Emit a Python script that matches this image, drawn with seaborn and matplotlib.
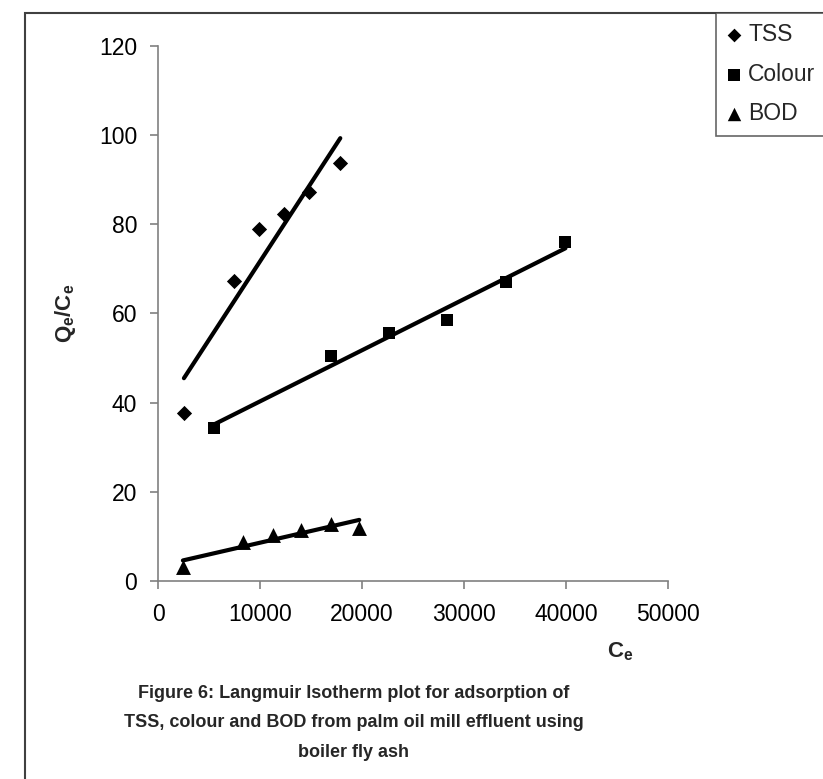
import matplotlib
matplotlib.use('Agg')
import matplotlib.pyplot as plt
import seaborn as sns
from matplotlib.patches import Rectangle

# values
tss_ce = [2540, 7420, 9860, 12400, 14840, 17870]
tss_qe = [37.7, 67.3, 79.0, 82.3, 87.3, 93.8]

colour_ce = [5470, 16990, 22660, 28320, 34080, 39940]
colour_qe = [34.3, 50.5, 55.6, 58.5, 67.1, 76.0]

bod_ce = [2440, 8300, 11230, 14060, 16990, 19730]
bod_qe = [3.1, 8.7, 10.3, 11.4, 12.8, 11.9]

x_ticks = [0, 10000, 20000, 30000, 40000, 50000]
y_ticks = [0, 20, 40, 60, 80, 100, 120]

caption = ("Figure 6: Langmuir Isotherm plot for adsorption of\n"
           "TSS, colour and BOD from palm oil mill effluent using\n"
           "boiler fly ash")

sns.set_style('ticks')
plt.rcParams['font.family'] = ['Liberation Sans', 'DejaVu Sans']
plt.rcParams['mathtext.fontset'] = 'custom'
plt.rcParams['mathtext.rm'] = 'Liberation Sans'
plt.rcParams['mathtext.bf'] = 'Liberation Sans:bold'

fig = plt.figure(figsize=(8.23, 7.79), dpi=100)
ax = fig.add_axes([0.192, 0.2542, 0.6197, 0.6868])

line_kw = {'color': 'black', 'lw': 3}
sns.regplot(x=tss_ce, y=tss_qe, ax=ax, ci=None, marker='D', color='black',
            label='TSS', scatter_kws={'s': 60, 'linewidths': 0, 'alpha': 1},
            line_kws=line_kw)
sns.regplot(x=colour_ce, y=colour_qe, ax=ax, ci=None, marker='s', color='black',
            label='Colour', scatter_kws={'s': 85, 'linewidths': 0, 'alpha': 1},
            line_kws=line_kw)
sns.regplot(x=bod_ce, y=bod_qe, ax=ax, ci=None, marker='^', color='black',
            label='BOD', scatter_kws={'s': 115, 'linewidths': 0, 'alpha': 1},
            line_kws=line_kw)

ax.set_xlim(0, 50000)
ax.set_ylim(0, 120)
ax.set_xticks(x_ticks)
ax.set_yticks(y_ticks)
sns.despine(ax=ax)
for sp in ['left', 'bottom']:
    ax.spines[sp].set_color('#808080')
    ax.spines[sp].set_linewidth(1.2)
ax.tick_params(axis='both', direction='out', length=6, width=1.2,
               color='#808080', labelsize=16.5, labelcolor='black')
ax.tick_params(axis='x', pad=10)
ax.tick_params(axis='y', pad=9)
ax.set_xlabel('')
ax.set_ylabel('')

ax.text(0.906, -0.133, r'$\mathbf{C_e}$', transform=ax.transAxes,
        ha='center', va='center', fontsize=16)
ax.text(-0.182, 0.5, r'$\mathbf{Q_e/C_e}$', transform=ax.transAxes,
        ha='center', va='center', fontsize=16, rotation=90)

fig.text(0.43, 0.072, caption, ha='center', va='center', fontsize=13,
         fontweight='bold', linespacing=1.95)

# outer frame of the chart area (cut by the picture edges)
fig.add_artist(Rectangle((25 / 823, -0.05), 1.2, 0.05 + 1 - 13 / 779,
                         transform=fig.transFigure, fill=False,
                         edgecolor='#404040', lw=1.5))

leg = fig.legend(loc='upper left', bbox_to_anchor=(716 / 823, 1 - 13 / 779),
                 frameon=True, fancybox=False, fontsize=16.5, markerscale=0.9,
                 handletextpad=0.25, handlelength=0.7, borderpad=0.45,
                 labelspacing=0.72, borderaxespad=0)
leg.get_frame().set_edgecolor('#404040')
leg.get_frame().set_linewidth(1.2)

fig.savefig('out.png', dpi=100)
